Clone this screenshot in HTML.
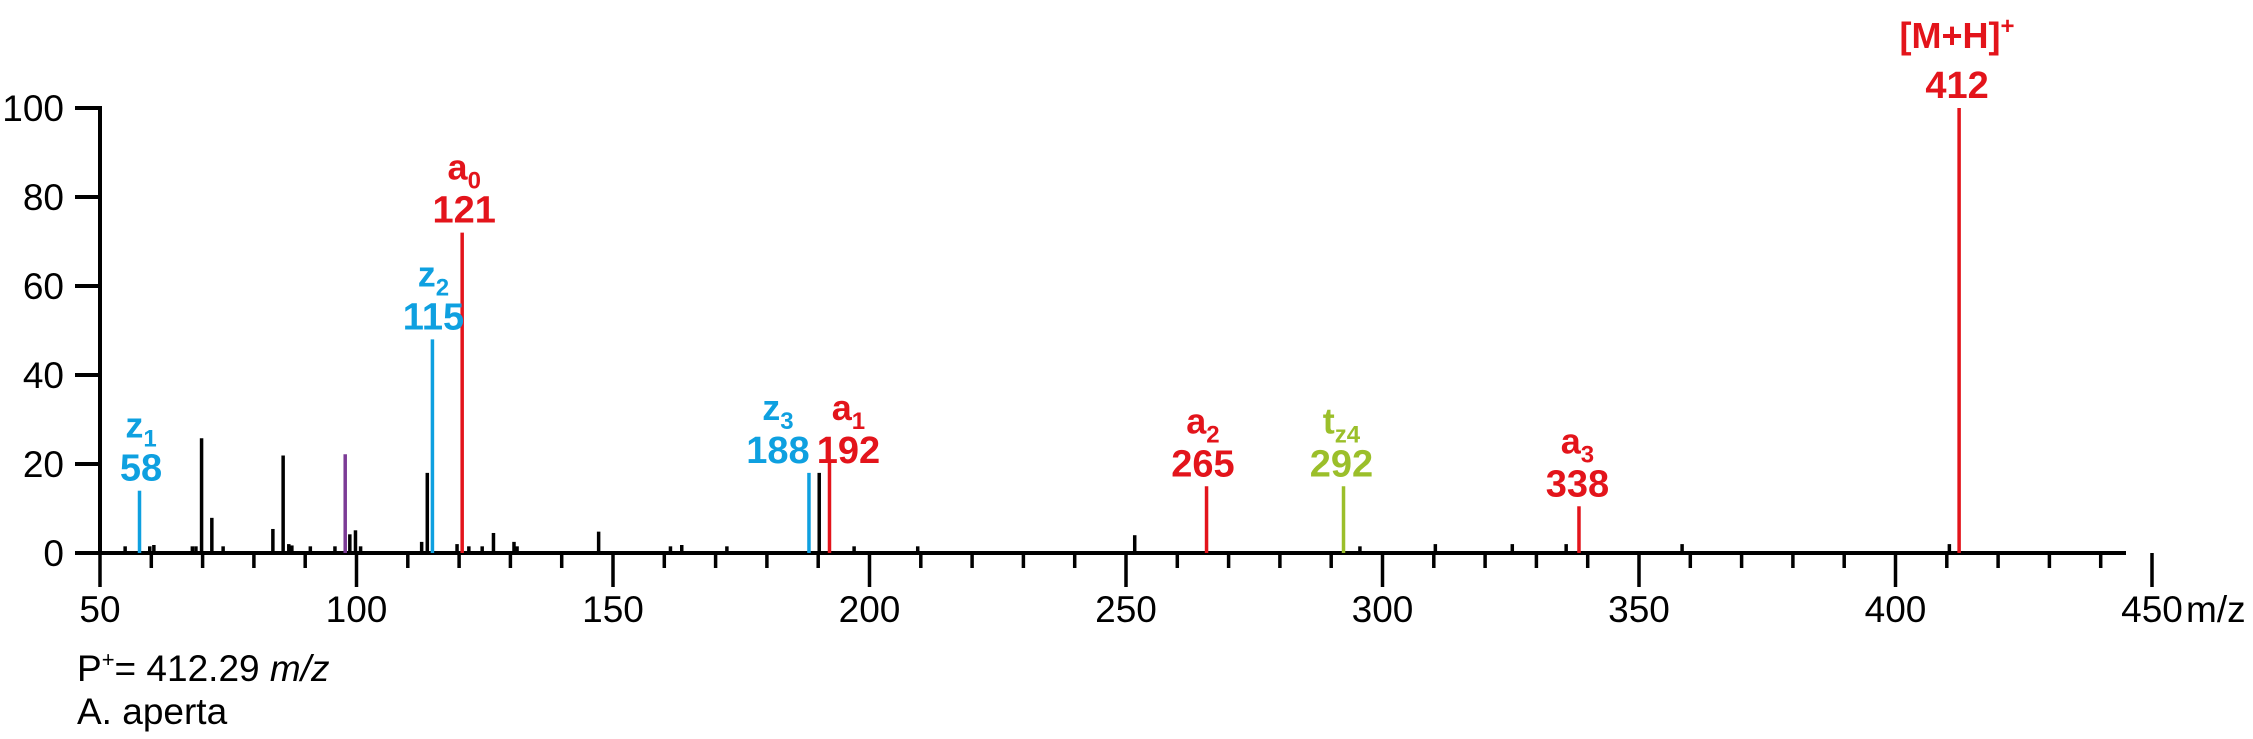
<!DOCTYPE html>
<html><head><meta charset="utf-8"><style>
html,body{margin:0;padding:0;background:#fff;}
svg{display:block;font-family:"Liberation Sans",Arial,sans-serif;}
</style></head><body>
<svg id="chart" width="2253" height="739" viewBox="0 0 2253 739" xmlns="http://www.w3.org/2000/svg">
<g id="axes"></g>
<g id="peaks"></g>
<g id="labels"></g>
<text x="77" y="681" font-size="37">P<tspan font-size="22" dy="-14">+</tspan><tspan dy="14">= 412.29 </tspan><tspan font-style="italic">m/z</tspan></text>
<text x="77" y="724" font-size="37">A. aperta</text>
</svg>
<script>
const peakMz = [50,54.9,57.7,59.7,60.5,68,68.7,69.8,71.8,74,83.7,85.7,86.8,87.4,91,95.8,97.8,98.7,99.8,100.8,112.7,113.8,114.8,119.6,120.6,121.9,124.5,126.7,130.7,131.3,147.2,161.2,163.4,172.2,188.2,190.2,192.2,197,209.4,251.7,265.7,292.4,295.6,310.3,325.3,335.8,338.3,358.4,410.5,412.4];
const peakInt = [1.2,1.5,14,1.5,1.8,1.5,1.5,25.8,7.9,1.5,5.4,21.9,2,1.7,1.5,1.5,22.2,4.2,5.1,1.5,2.5,18,48,2,72,1.5,1.5,4.5,2.5,1.5,4.8,1.5,1.8,1.5,18,18,21,1.5,1.5,4,15,15,1.5,2,2,2,10.5,2,2,100];
const peakType = ['k','k','z','k','k','k','k','k','k','k','k','k','k','k','k','k','p','k','k','k','k','k','z','k','a','k','k','k','k','k','k','k','k','k','z','k','a','k','k','k','a','t','k','k','k','k','a','k','k','a'];
const labelMz = [58,115,121,188,192,265,292,338,412];
const labelInt = [14,48,72,18,18,15,15,10.5,100];
const labelIon = ['z','z','a','z','a','a','t','a','[M+H]'];
const labelSub = ['1','2','0','3','1','2','z4','3','+'];
const labelType = ['z','z','a','z','a','a','t','a','a'];
const xTicks = [50,100,150,200,250,300,350,400,450];
const yTicks = [0,20,40,60,80,100];

const colors = {k:'#000',z:'#0ea0e0',a:'#e3141b',t:'#9bbf2a',p:'#7c3b96'};
const labelShift = {188:-30, 192:20};
const NS='http://www.w3.org/2000/svg';
const X0=100, XS=5.13, Y0=553, YS=4.45;
const xs = v => X0 + (v-50)*XS;
const ys = v => Y0 - v*YS;
function mk(tag, attrs, parent){const e=document.createElementNS(NS,tag);for(const k in attrs)e.setAttribute(k,attrs[k]);parent.appendChild(e);return e;}
const axes=document.getElementById('axes'), pk=document.getElementById('peaks'), lb=document.getElementById('labels');

peakMz.forEach((m,i)=>{
  const l=mk('line',{x1:xs(m),x2:xs(m),y1:Y0,y2:ys(peakInt[i]),stroke:colors[peakType[i]],'stroke-width':3.5},pk);
  
  
});

let a=mk('line',{x1:100,x2:100,y1:106,y2:555,stroke:'#000','stroke-width':4},axes);


a=mk('line',{x1:98,x2:2126,y1:Y0,y2:Y0,stroke:'#000','stroke-width':4},axes);


for(let v=50;v<=450;v+=10){
  const major = xTicks.includes(v);
  const t=mk('line',{x1:xs(v),x2:xs(v),y1:Y0,y2:Y0+(major?34:15),stroke:'#000','stroke-width':3.5},axes);
  
  
}
xTicks.forEach(v=>{
  const t=mk('text',{x:xs(v),y:622,'font-size':37,'text-anchor':'middle'},axes);
  t.textContent=v;
  
  
});
const u=mk('text',{x:2186,y:622,'font-size':37},axes);
u.textContent='m/z';


yTicks.forEach(v=>{
  const t=mk('line',{x1:75,x2:100,y1:ys(v),y2:ys(v),stroke:'#000','stroke-width':4},axes);
  
  
  const s=mk('text',{x:64,y:ys(v)+13,'font-size':37,'text-anchor':'end'},axes);
  s.textContent=v;
  
  
});

labelMz.forEach((m,i)=>{
  const top=ys(labelInt[i]);
  const c=colors[labelType[i]];
  const x=xs(m)+(labelShift[m]||0);
  const n=mk('text',{x:x,y:top-10,'font-size':38,'font-weight':'bold','text-anchor':'middle',fill:c},lb);
  n.textContent=m;
  
  
  const sup = labelSub[i]==='+';
  const t=mk('text',{x:x,y:top-(sup?60:53),'font-size':36,'font-weight':'bold','text-anchor':'middle',fill:c},lb);
  
  
  const s1=mk('tspan',{},t); s1.textContent=labelIon[i];
  const s2=mk('tspan',{'font-size':24,dy:sup?-14:9},t); s2.textContent=labelSub[i];
});
</script>
</body></html>
